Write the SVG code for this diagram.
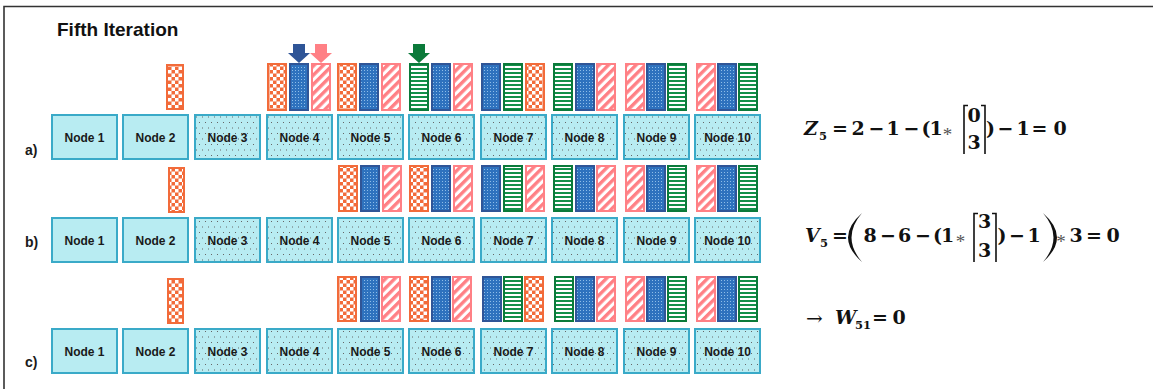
<svg xmlns="http://www.w3.org/2000/svg" width="1153" height="389" viewBox="0 0 1153 389">
<style>
.nd{fill:#B8ECF2;stroke:#3AAAC8;stroke-width:2}
.nd.d{fill:url(#ndots)}
.nt{font-family:"Liberation Sans",Arial,sans-serif;font-weight:bold;font-size:12px;fill:#1a1a1a;text-anchor:middle}
.lb{font-family:"Liberation Sans",Arial,sans-serif;font-weight:bold;font-size:14px;fill:#1a1a1a}
.o{fill:url(#chk);stroke:#F26B3A;stroke-width:2}
.b{fill:url(#bdots);stroke:#2F5597;stroke-width:2}
.p{fill:url(#diag);stroke:#FF8085;stroke-width:2}
.g{fill:url(#hstr);stroke:#0B7A3A;stroke-width:2}
.m{font-family:"DejaVu Serif","Liberation Serif",serif;font-weight:bold;font-size:19px;fill:#111;text-anchor:middle}
.mi{font-style:italic;text-anchor:start}
.ms{font-size:11.5px;text-anchor:start}
.ma{font-family:"Liberation Serif",serif;font-weight:normal;font-size:19px;fill:#555}
.br{fill:none;stroke:#111;stroke-width:1.6}
</style>
<defs>
<pattern id="chk" width="7" height="7" patternUnits="userSpaceOnUse">
<rect width="7" height="7" fill="#F26B3A"/>
<rect width="3.5" height="3.5" fill="#fff"/>
<rect x="3.5" y="3.5" width="3.5" height="3.5" fill="#fff"/>
</pattern>
<pattern id="bdots" width="3" height="3" patternUnits="userSpaceOnUse">
<rect width="3" height="3" fill="#2E72BE"/>
<rect x="1" y="1" width="1" height="1" fill="#8EBDE8"/>
</pattern>
<pattern id="diag" width="6.5" height="6.5" patternUnits="userSpaceOnUse" patternTransform="rotate(45)">
<rect width="6.5" height="6.5" fill="#fff"/>
<rect width="3.4" height="6.5" fill="#FF8085"/>
</pattern>
<pattern id="hstr" width="4" height="4" patternUnits="userSpaceOnUse">
<rect width="4" height="4" fill="#fff"/>
<rect width="4" height="2" fill="#12904A"/>
</pattern>
<pattern id="ndots" width="12" height="11" patternUnits="userSpaceOnUse">
<rect width="12" height="11" fill="#B8ECF2"/>
<rect x="1" y="1" width="1" height="1" fill="#666"/>
<rect x="7" y="1" width="1" height="1" fill="#666"/>
<rect x="4" y="6.5" width="1" height="1" fill="#666"/>
<rect x="10" y="6.5" width="1" height="1" fill="#666"/>
</pattern>
</defs>
<rect width="1153" height="389" fill="#fff"/>
<path d="M4 389V6.5H1153" fill="none" stroke="#333" stroke-width="1.6"/>
<text x="57" y="36" font-family="Liberation Sans,Arial,sans-serif" font-weight="bold" font-size="19" fill="#111">Fifth Iteration</text>
<text class="lb" x="25" y="155">a)</text>
<text class="lb" x="25" y="247">b)</text>
<text class="lb" x="25" y="367">c)</text>

<!-- Row a -->
<g id="a-node1"><rect class="nd" x="52" y="115" width="65" height="44"/><text class="nt" x="84.5" y="142">Node 1</text></g>
<g id="a-node2"><rect class="nd" x="123" y="115" width="65" height="44"/><text class="nt" x="155.5" y="142">Node 2</text>
<rect class="o" x="167" y="65" width="16" height="44"/></g>
<g id="a-node3"><rect class="nd d" x="195" y="115" width="65" height="44"/><text class="nt" x="227.5" y="142">Node 3</text></g>
<g id="a-node4"><rect class="nd d" x="267" y="115" width="65" height="44"/><text class="nt" x="299.5" y="142">Node 4</text>
<rect class="o" x="268" y="64" width="18" height="46"/><rect class="b" x="290" y="64" width="18" height="46"/><rect class="p" x="312" y="64" width="18" height="46"/></g>
<g id="a-node5"><rect class="nd d" x="338" y="115" width="65" height="44"/><text class="nt" x="370.5" y="142">Node 5</text>
<rect class="o" x="338" y="64" width="18" height="46"/><rect class="b" x="360" y="64" width="18" height="46"/><rect class="p" x="382" y="64" width="18" height="46"/></g>
<g id="a-node6"><rect class="nd d" x="409" y="115" width="65" height="44"/><text class="nt" x="441.5" y="142">Node 6</text>
<rect class="g" x="410" y="64" width="18" height="46"/><rect class="b" x="432" y="64" width="18" height="46"/><rect class="p" x="454" y="64" width="18" height="46"/></g>
<g id="a-node7"><rect class="nd d" x="481" y="115" width="65" height="44"/><text class="nt" x="513.5" y="142">Node 7</text>
<rect class="b" x="482" y="64" width="18" height="46"/><rect class="g" x="504" y="64" width="18" height="46"/><rect class="o" x="526" y="64" width="18" height="46"/></g>
<g id="a-node8"><rect class="nd d" x="552" y="115" width="65" height="44"/><text class="nt" x="584.5" y="142">Node 8</text>
<rect class="g" x="554" y="64" width="18" height="46"/><rect class="b" x="576" y="64" width="18" height="46"/><rect class="p" x="597" y="64" width="18" height="46"/></g>
<g id="a-node9"><rect class="nd d" x="624" y="115" width="65" height="44"/><text class="nt" x="656.5" y="142">Node 9</text>
<rect class="p" x="626" y="64" width="18" height="46"/><rect class="b" x="647" y="64" width="18" height="46"/><rect class="g" x="668" y="64" width="18" height="46"/></g>
<g id="a-node10"><rect class="nd d" x="695" y="115" width="65" height="44"/><text class="nt" x="727.5" y="142">Node 10</text>
<rect class="p" x="697" y="64" width="18" height="46"/><rect class="b" x="718" y="64" width="18" height="46"/><rect class="g" x="739" y="64" width="18" height="46"/></g>

<!-- Row b -->
<g id="b-node1"><rect class="nd" x="52" y="218" width="65" height="44"/><text class="nt" x="84.5" y="245">Node 1</text></g>
<g id="b-node2"><rect class="nd" x="123" y="218" width="65" height="44"/><text class="nt" x="155.5" y="245">Node 2</text>
<rect class="o" x="169" y="168" width="15" height="44"/></g>
<g id="b-node3"><rect class="nd d" x="195" y="218" width="65" height="44"/><text class="nt" x="227.5" y="245">Node 3</text></g>
<g id="b-node4"><rect class="nd d" x="267" y="218" width="65" height="44"/><text class="nt" x="299.5" y="245">Node 4</text></g>
<g id="b-node5"><rect class="nd d" x="338" y="218" width="65" height="44"/><text class="nt" x="370.5" y="245">Node 5</text>
<rect class="o" x="339" y="166" width="18" height="45"/><rect class="b" x="361" y="166" width="18" height="45"/><rect class="p" x="383" y="166" width="18" height="45"/></g>
<g id="b-node6"><rect class="nd d" x="409" y="218" width="65" height="44"/><text class="nt" x="441.5" y="245">Node 6</text>
<rect class="o" x="410" y="166" width="18" height="45"/><rect class="b" x="432" y="166" width="18" height="45"/><rect class="p" x="454" y="166" width="18" height="45"/></g>
<g id="b-node7"><rect class="nd d" x="481" y="218" width="65" height="44"/><text class="nt" x="513.5" y="245">Node 7</text>
<rect class="b" x="482" y="166" width="18" height="45"/><rect class="g" x="504" y="166" width="18" height="45"/><rect class="p" x="526" y="166" width="18" height="45"/></g>
<g id="b-node8"><rect class="nd d" x="552" y="218" width="65" height="44"/><text class="nt" x="584.5" y="245">Node 8</text>
<rect class="g" x="554" y="166" width="18" height="45"/><rect class="b" x="576" y="166" width="18" height="45"/><rect class="p" x="597" y="166" width="18" height="45"/></g>
<g id="b-node9"><rect class="nd d" x="624" y="218" width="65" height="44"/><text class="nt" x="656.5" y="245">Node 9</text>
<rect class="p" x="626" y="166" width="18" height="45"/><rect class="b" x="647" y="166" width="18" height="45"/><rect class="g" x="668" y="166" width="18" height="45"/></g>
<g id="b-node10"><rect class="nd d" x="695" y="218" width="65" height="44"/><text class="nt" x="727.5" y="245">Node 10</text>
<rect class="p" x="697" y="166" width="18" height="45"/><rect class="b" x="718" y="166" width="18" height="45"/><rect class="g" x="739" y="166" width="18" height="45"/></g>

<!-- Row c -->
<g id="c-node1"><rect class="nd" x="52" y="329" width="65" height="44"/><text class="nt" x="84.5" y="356">Node 1</text></g>
<g id="c-node2"><rect class="nd" x="123" y="329" width="65" height="44"/><text class="nt" x="155.5" y="356">Node 2</text>
<rect class="o" x="168" y="279" width="15" height="44"/></g>
<g id="c-node3"><rect class="nd d" x="195" y="329" width="65" height="44"/><text class="nt" x="227.5" y="356">Node 3</text></g>
<g id="c-node4"><rect class="nd d" x="267" y="329" width="65" height="44"/><text class="nt" x="299.5" y="356">Node 4</text></g>
<g id="c-node5"><rect class="nd d" x="338" y="329" width="65" height="44"/><text class="nt" x="370.5" y="356">Node 5</text>
<rect class="o" x="338" y="277" width="18" height="44"/><rect class="b" x="361" y="277" width="18" height="44"/><rect class="p" x="382" y="277" width="18" height="44"/></g>
<g id="c-node6"><rect class="nd d" x="409" y="329" width="65" height="44"/><text class="nt" x="441.5" y="356">Node 6</text>
<rect class="o" x="410" y="277" width="18" height="44"/><rect class="b" x="432" y="277" width="18" height="44"/><rect class="p" x="453" y="277" width="18" height="44"/></g>
<g id="c-node7"><rect class="nd d" x="481" y="329" width="65" height="44"/><text class="nt" x="513.5" y="356">Node 7</text>
<rect class="b" x="483" y="277" width="18" height="44"/><rect class="g" x="504" y="277" width="18" height="44"/><rect class="o" x="525" y="277" width="18" height="44"/></g>
<g id="c-node8"><rect class="nd d" x="552" y="329" width="65" height="44"/><text class="nt" x="584.5" y="356">Node 8</text>
<rect class="g" x="555" y="277" width="18" height="44"/><rect class="b" x="576" y="277" width="18" height="44"/><rect class="p" x="597" y="277" width="18" height="44"/></g>
<g id="c-node9"><rect class="nd d" x="624" y="329" width="65" height="44"/><text class="nt" x="656.5" y="356">Node 9</text>
<rect class="p" x="626" y="277" width="18" height="44"/><rect class="b" x="647" y="277" width="18" height="44"/><rect class="g" x="668" y="277" width="18" height="44"/></g>
<g id="c-node10"><rect class="nd d" x="695" y="329" width="65" height="44"/><text class="nt" x="727.5" y="356">Node 10</text>
<rect class="p" x="697" y="277" width="18" height="44"/><rect class="b" x="718" y="277" width="18" height="44"/><rect class="g" x="739" y="277" width="18" height="44"/></g>

<!-- Move arrows -->
<g id="connectors">
<path d="M293 44h12v9h5l-11 10l-11-10h5z" fill="#2F5597"/>
<path d="M315 44h12v9h5l-11 10l-11-10h5z" fill="#FF8085"/>
<path d="M413 44h12v9h5l-11 10l-11-10h5z" fill="#0B7A3A"/>
</g>

<!-- Formula Z -->
<g id="formula-z">
<text class="m mi" x="804" y="135">Z</text><text class="m ms" x="819" y="140">5</text>
<text class="m" x="840" y="135">=</text>
<text class="m" x="858" y="135">2</text>
<text class="m" x="876.5" y="135">−</text>
<text class="m" x="893" y="135">1</text>
<text class="m" x="911.5" y="135">−</text>
<text class="m" x="926" y="135">(</text>
<text class="m" x="936" y="135">1</text>
<text class="m ma" x="947.5" y="141">*</text>
<path class="br" d="M968 105.5h-4v48.5M981 105.5h4v48.5"/>
<text class="m" x="974" y="122">0</text>
<text class="m" x="974" y="149">3</text>
<text class="m" x="990.5" y="135">)</text>
<text class="m" x="1005.5" y="135">−</text>
<text class="m" x="1023" y="135">1</text>
<text class="m" x="1039.5" y="135">=</text>
<text class="m" x="1060" y="135">0</text>
</g>

<!-- Formula V -->
<g id="formula-v">
<text class="m mi" x="805" y="242">V</text><text class="m ms" x="820" y="247">5</text>
<text class="m" x="840" y="242">=</text>
<path d="M862 213Q834 237.5 862 262Q841 237.5 862 213Z" fill="#111"/>
<text class="m" x="870" y="242">8</text>
<text class="m" x="888" y="242">−</text>
<text class="m" x="904.5" y="242">6</text>
<text class="m" x="923" y="242">−</text>
<text class="m" x="937.5" y="242">(</text>
<text class="m" x="947.5" y="242">1</text>
<text class="m ma" x="960.5" y="248">*</text>
<path class="br" d="M978 213.5h-4v48.5M992 213.5h4v48.5"/>
<text class="m" x="984.5" y="228">3</text>
<text class="m" x="984.5" y="257">3</text>
<text class="m" x="1002" y="242">)</text>
<text class="m" x="1017" y="242">−</text>
<text class="m" x="1034" y="242">1</text>
<path d="M1043 213Q1071 237.5 1043 262Q1064 237.5 1043 213Z" fill="#111"/>
<text class="m ma" x="1061" y="248">*</text>
<text class="m" x="1076" y="242">3</text>
<text class="m" x="1094" y="242">=</text>
<text class="m" x="1113" y="242">0</text>
</g>

<!-- W result -->
<g id="formula-w">
<text class="m" x="814.5" y="325" style="font-weight:normal;font-size:20px">→</text>
<text class="m mi" x="835" y="324">W</text><text class="m ms" x="855" y="329">51</text>
<text class="m" x="880" y="324">=</text>
<text class="m" x="899" y="324">0</text>
</g>
</svg>
